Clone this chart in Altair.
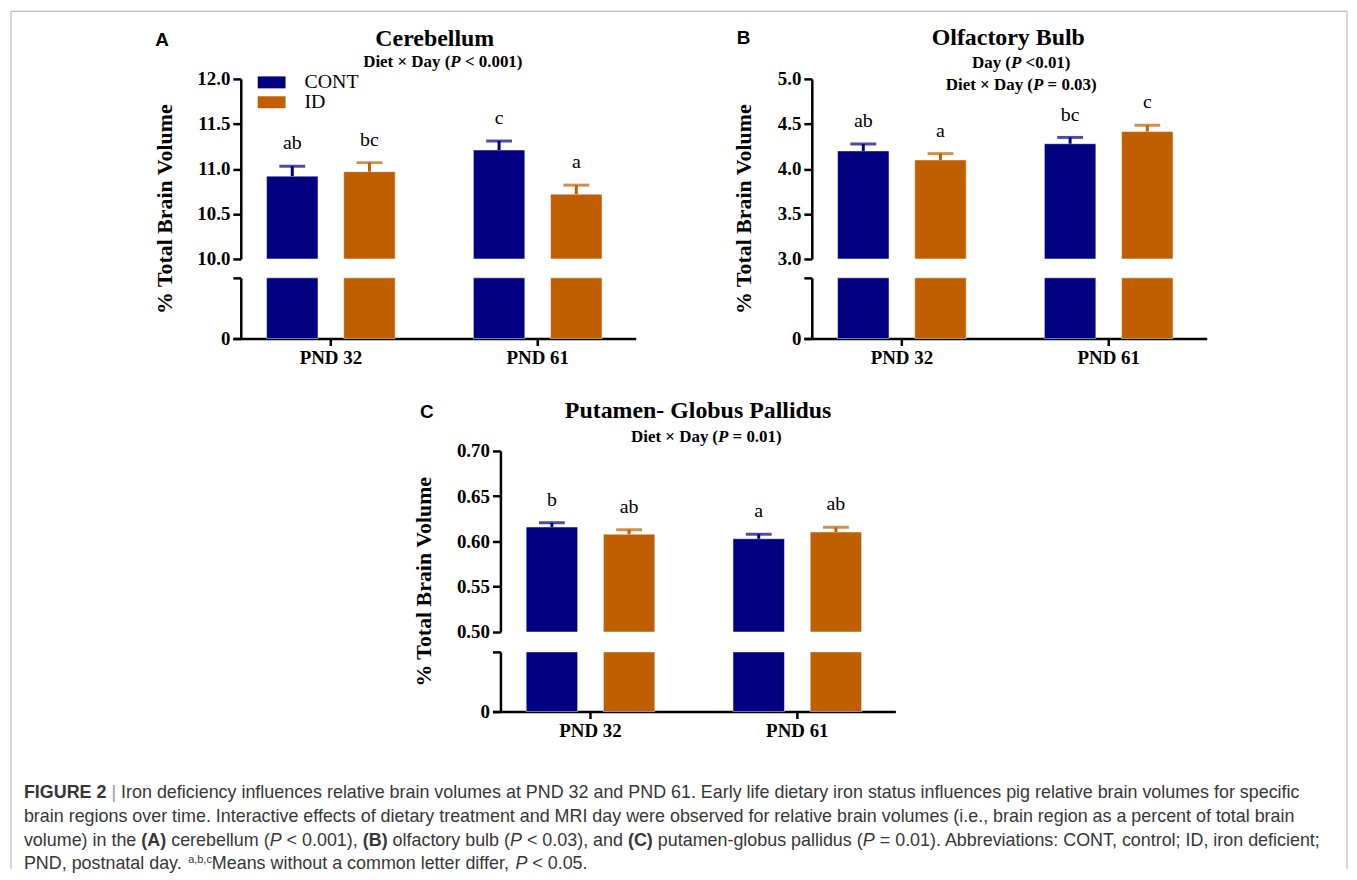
import altair as alt
import pandas as pd

SERIF = "Liberation Serif"
SANS = "Liberation Sans"
NAVY = "#000080"
ORANGE = "#C05F00"
CAPCOL = "#363636"

# ---------------- data ----------------
days = ["PND 32", "PND 61"]
diets = ["CONT", "ID"]
group_day = ["PND 32", "PND 32", "PND 61", "PND 61"]
group_diet = ["CONT", "ID", "CONT", "ID"]

cereb_mean = [10.92, 10.97, 11.21, 10.72]
cereb_sem = [0.11, 0.10, 0.10, 0.10]
cereb_letters = ["ab", "bc", "c", "a"]
cereb_ticks = [10.0, 10.5, 11.0, 11.5, 12.0]

olf_mean = [4.20, 4.10, 4.28, 4.415]
olf_sem = [0.077, 0.07, 0.07, 0.07]
olf_letters = ["ab", "a", "bc", "c"]
olf_ticks = [3.0, 3.5, 4.0, 4.5, 5.0]

pgp_mean = [0.616, 0.608, 0.603, 0.6105]
pgp_sem = [0.0047, 0.005, 0.005, 0.0052]
pgp_letters = ["b", "ab", "a", "ab"]
pgp_ticks = [0.50, 0.55, 0.60, 0.65, 0.70]

# ---------------- layout constants ----------------
PW = 405                 # drawn width of every panel's x range
COL0, COL1 = 261, 313    # grid column widths (A/C offset, C/B offset)
PI, PO = 0.378, 0.163
ORIG_A = (233, 77.5)
ORIG_B = (807.5, 77.5)
ORIG_C = (494, 451.7)
ORIG_CAP = (233, 780)


def frame(mean, sem, letters):
    return pd.DataFrame({
        "day": group_day, "diet": group_diet, "mean": mean,
        "top": [m + s for m, s in zip(mean, sem)], "letter": letters,
    })


legend = alt.Legend(
    title=None, orient="none", legendX=29, legendY=-6.5, padding=0, rowPadding=0,
    symbolType="M-2,-0.86H2V0.86H-2Z", symbolSize=196, symbolStrokeWidth=0,
    symbolOpacity=1, labelFont=SERIF, labelFontSize=20, labelColor="black",
    labelOffset=23, offset=0,
)


def xenc(axis):
    return alt.X("day:N", scale=alt.Scale(domain=days, range=[0, PW], paddingInner=PI,
                                          paddingOuter=PO), axis=axis)


XO = alt.XOffset("diet:N", scale=alt.Scale(domain=diets, paddingInner=1 / 3, paddingOuter=0))
COLOR = alt.Color("diet:N", scale=alt.Scale(domain=diets, range=[NAVY, ORANGE]), legend=legend)
STROKE = alt.Stroke("diet:N", scale=alt.Scale(domain=diets, range=[NAVY, ORANGE]), legend=None)
FILL = alt.Fill("diet:N", scale=alt.Scale(domain=diets, range=[NAVY, ORANGE]), legend=None)

AX = dict(domainColor="black", domainWidth=2.5, tickColor="black", tickWidth=2.5,
          labelColor="black", labelFont=SERIF, labelFontWeight="bold", labelFontSize=19,
          grid=False)


def label(text, x, y, orig, size, font=SERIF, weight="bold", style="normal", align="center"):
    return alt.Chart(pd.DataFrame({"t": [text]})).mark_text(
        font=font, fontSize=size, fontWeight=weight, fontStyle=style, align=align,
        baseline="middle", color="black",
    ).encode(x=alt.value(x - orig[0]), y=alt.value(y - orig[1]), text="t:N")


def upper(df, lo, hi, ticks, fmt, W, H, titleX, titleY, texts):
    yax = alt.Axis(values=ticks, format=fmt, offset=-8, tickSize=8, labelPadding=3,
                   labelFlush=False, labelOverlap=False,
                   title="% Total Brain Volume", titleFont=SERIF, titleFontSize=22,
                   titleFontWeight="bold", titleColor="black", titleX=titleX, titleY=titleY,
                   titleAngle=-90, titleBaseline="middle", titleAlign="center", **AX)
    ysc = alt.Scale(domain=[lo, hi], zero=False, nice=False, clamp=True)
    base = alt.Chart(df)
    bars = base.mark_bar(stroke="white", strokeWidth=1, strokeOpacity=0.5).encode(
        x=xenc(None), xOffset=XO, y=alt.Y("mean:Q", scale=ysc, axis=yax), y2=alt.datum(lo),
        color=COLOR)
    stem = base.mark_rule(strokeWidth=3).encode(
        x=xenc(None), xOffset=XO, y=alt.Y("mean:Q", scale=ysc), y2="top:Q", stroke=STROKE)
    cap = base.mark_tick(thickness=3, size=26).encode(
        x=xenc(None), xOffset=XO, y=alt.Y("top:Q", scale=ysc), fill=FILL)
    lab = base.mark_text(font=SERIF, fontSize=20, dy=-17, baseline="alphabetic",
                         color="black").encode(
        x=xenc(None), xOffset=XO, y=alt.Y("top:Q", scale=ysc), text="letter:N")
    return alt.layer(bars, stem, cap, lab, *texts).properties(width=W, height=H)


def lower(df, lo, W, H):
    ysc = alt.Scale(domain=[0, lo], nice=False, zero=True, clamp=True)
    yax = alt.Axis(values=[0, lo], labelExpr="datum.value == 0 ? '0' : ''", offset=-8,
                   tickSize=8, labelPadding=3, title=None, **AX)
    xax = alt.Axis(title=None, labelAngle=0, tickSize=7, labelPadding=3, **AX)
    return alt.Chart(df).mark_bar(stroke="white", strokeWidth=1, strokeOpacity=0.5).encode(
        x=xenc(xax), xOffset=XO, y=alt.Y("mean:Q", scale=ysc, axis=yax), y2=alt.datum(0),
        color=COLOR).properties(width=W, height=H)


# ---------------- panel texts ----------------
texts_A = [
    label("A", 162, 38, ORIG_A, 19, font=SANS),
    label("Cerebellum", 436, 37, ORIG_A, 24),
    label("Diet × Day (", 451.6, 61, ORIG_A, 17, align="right"),
    label("P", 451.6, 61, ORIG_A, 17, style="italic", align="left"),
    label("< 0.001)", 466.3, 61, ORIG_A, 17, align="left"),
]
texts_B = [
    label("B", 747, 36.7, ORIG_B, 19, font=SANS),
    label("Olfactory Bulb", 1013, 36.7, ORIG_B, 24),
    label("Day (", 1015.7, 61.7, ORIG_B, 17, align="right"),
    label("P", 1015.7, 61.7, ORIG_B, 17, style="italic", align="left"),
    label("<0.01)", 1030.4, 61.7, ORIG_B, 17, align="left"),
    label("Diet × Day (", 1037.8, 83.3, ORIG_B, 17, align="right"),
    label("P", 1037.8, 83.3, ORIG_B, 17, style="italic", align="left"),
    label("= 0.03)", 1052.5, 83.3, ORIG_B, 17, align="left"),
]
texts_C = [
    label("C", 428, 412.7, ORIG_C, 19, font=SANS),
    label("Putamen- Globus Pallidus", 700.7, 411.7, ORIG_C, 24),
    label("Diet × Day", 711, 437.7, ORIG_C, 17, align="right"),
    label("(", 720.6, 437.7, ORIG_C, 17, align="right"),
    label("P", 720.6, 437.7, ORIG_C, 17, style="italic", align="left"),
    label("= 0.01)", 735.3, 437.7, ORIG_C, 17, align="left"),
]

dfA = frame(cereb_mean, cereb_sem, cereb_letters)
dfB = frame(olf_mean, olf_sem, olf_letters)
dfC = frame(pgp_mean, pgp_sem, pgp_letters)

A_up = upper(dfA, 10.0, 12.0, cereb_ticks, ".1f", COL0, 181, -77, 130.5, texts_A)
A_low = lower(dfA, 10.0, COL0, 61)
B_up = upper(dfB, 3.0, 5.0, olf_ticks, ".1f", PW, 181, -69, 130.5, texts_B)
B_low = lower(dfB, 3.0, PW, 61)
C_up = upper(dfC, 0.50, 0.70, pgp_ticks, ".2f", COL1, 182, -77, 131, texts_C)
C_low = lower(dfC, 0.50, COL1, 60)

# ---------------- caption ----------------
CAP_FS = 18.0
W_REG = {" ": 278, "(": 333, ")": 333, ",": 278, "-": 333, ".": 278, ":": 278, ";": 278,
         "<": 584, "=": 584, "|": 260,
         "A": 667, "B": 667, "C": 722, "D": 722, "E": 667, "I": 278, "M": 833, "N": 722,
         "O": 778, "P": 667, "R": 722, "T": 611,
         "a": 556, "b": 556, "c": 500, "d": 556, "e": 556, "f": 278, "g": 556, "h": 556,
         "i": 222, "j": 222, "k": 500, "l": 222, "m": 833, "n": 556, "o": 556, "p": 556,
         "q": 556, "r": 333, "s": 500, "t": 278, "u": 556, "v": 500, "w": 722, "x": 500,
         "y": 500, "z": 500}
W_BOLD = {" ": 278, "(": 333, ")": 333, "A": 722, "B": 722, "C": 722, "E": 667, "F": 611,
          "G": 778, "I": 278, "R": 722, "U": 722}


def twidth(text, weight, size):
    table = W_BOLD if weight == "bold" else W_REG
    return sum(table.get(ch, 556) for ch in text) * size / 1000.0


def seg(text, x, y, weight="normal", style="normal", size=CAP_FS, color=CAPCOL):
    return alt.Chart(pd.DataFrame({"t": [text]})).mark_text(
        font=SANS, fontSize=size, fontWeight=weight, fontStyle=style, align="left",
        baseline="alphabetic", color=color,
    ).encode(x=alt.value(x - ORIG_CAP[0]), y=alt.value(y - ORIG_CAP[1]), text="t:N")


N, B_, I_ = "normal", "bold", "italic"
caption_lines = [
    [("FIGURE 2 ", B_, N, CAP_FS, 0, CAPCOL), ("| ", N, N, CAP_FS, 0, "#999999"),
     ("Iron deficiency influences relative brain volumes at PND 32 and PND 61. Early life "
      "dietary iron status influences pig relative brain volumes for specific",
      N, N, CAP_FS, 0, CAPCOL)],
    [("brain regions over time. Interactive effects of dietary treatment and MRI day were "
      "observed for relative brain volumes (i.e., brain region as a percent of total brain",
      N, N, CAP_FS, 0, CAPCOL)],
    [("volume) in the ", N, N, CAP_FS, 0, CAPCOL),
     ("(A) ", B_, N, CAP_FS, 0, CAPCOL),
     ("cerebellum (", N, N, CAP_FS, 0, CAPCOL),
     ("P ", N, I_, CAP_FS, 0, CAPCOL),
     ("< 0.001), ", N, N, CAP_FS, 0, CAPCOL),
     ("(B) ", B_, N, CAP_FS, 0, CAPCOL),
     ("olfactory bulb (", N, N, CAP_FS, 0, CAPCOL),
     ("P ", N, I_, CAP_FS, 0, CAPCOL),
     ("< 0.03), and ", N, N, CAP_FS, 0, CAPCOL),
     ("(C) ", B_, N, CAP_FS, 0, CAPCOL),
     ("putamen-globus pallidus (", N, N, CAP_FS, 0, CAPCOL),
     ("P ", N, I_, CAP_FS, 0, CAPCOL),
     ("= 0.01). Abbreviations: CONT, control; ID, iron deficient;", N, N, CAP_FS, 0, CAPCOL)],
    [("PND, postnatal day. ", N, N, CAP_FS, 0, CAPCOL),
     ("a,b,c", N, N, 11, -6, CAPCOL),
     ("Means without a common letter differ, ", N, N, CAP_FS, 0, CAPCOL),
     ("P ", N, I_, CAP_FS, 0, CAPCOL),
     ("< 0.05.", N, N, CAP_FS, 0, CAPCOL)],
]
line_baselines = [800.5, 825, 849, 872.5]

caption_segments = []
for segs, yb in zip(caption_lines, line_baselines):
    x = 23.0
    for text, weight, style, size, dy, col in segs:
        caption_segments.append(seg(text.strip(), x, yb + dy, weight, style, size, col))
        x += twidth(text, weight, size)

one = pd.DataFrame({"v": [0]})
BORDER = "#aaaaaa"
bx0, by0, bx1, by1 = 10 - ORIG_CAP[0], 10 - ORIG_CAP[1], 1353 - ORIG_CAP[0], 872 - ORIG_CAP[1]
border = [
    alt.Chart(one).mark_rule(color=BORDER, strokeWidth=1).encode(
        x=alt.value(bx0), y=alt.value(by0), y2=alt.value(by1)),
    alt.Chart(one).mark_rule(color=BORDER, strokeWidth=1).encode(
        x=alt.value(bx1), y=alt.value(by0), y2=alt.value(by1)),
    alt.Chart(one).mark_rule(color=BORDER, strokeWidth=1).encode(
        x=alt.value(bx0), x2=alt.value(bx1), y=alt.value(by0)),
]
caption = alt.layer(*border, *caption_segments).properties(width=COL0, height=60)


def filler(w, h):
    return alt.Chart(one).mark_point(opacity=0).encode(
        x=alt.X("v:Q", axis=None), y=alt.Y("v:Q", axis=None)).properties(width=w, height=h)


cells = [
    A_up, filler(COL1, 1), B_up,
    filler(1, 19), filler(1, 19), filler(1, 19),
    A_low, filler(COL1, 1), B_low,
    filler(1, 113), filler(1, 113), filler(1, 113),
    filler(COL0, 1), C_up, filler(1, 1),
    filler(1, 20), filler(1, 20), filler(1, 20),
    filler(COL0, 1), C_low, filler(1, 1),
    filler(1, 66), filler(1, 66), filler(1, 66),
    caption, filler(1, 1), filler(1, 1),
]

chart = alt.concat(
    *cells, columns=3, align="each", bounds="flush",
    spacing={"row": 0, "column": 0},
).resolve_scale(xOffset="independent").properties(
    padding={"left": 2, "top": 0, "right": 1, "bottom": 0},
    background="white",
).configure_view(strokeWidth=0, stroke="transparent")

chart.save("out.html", embed_options={"renderer": "svg", "actions": False})
